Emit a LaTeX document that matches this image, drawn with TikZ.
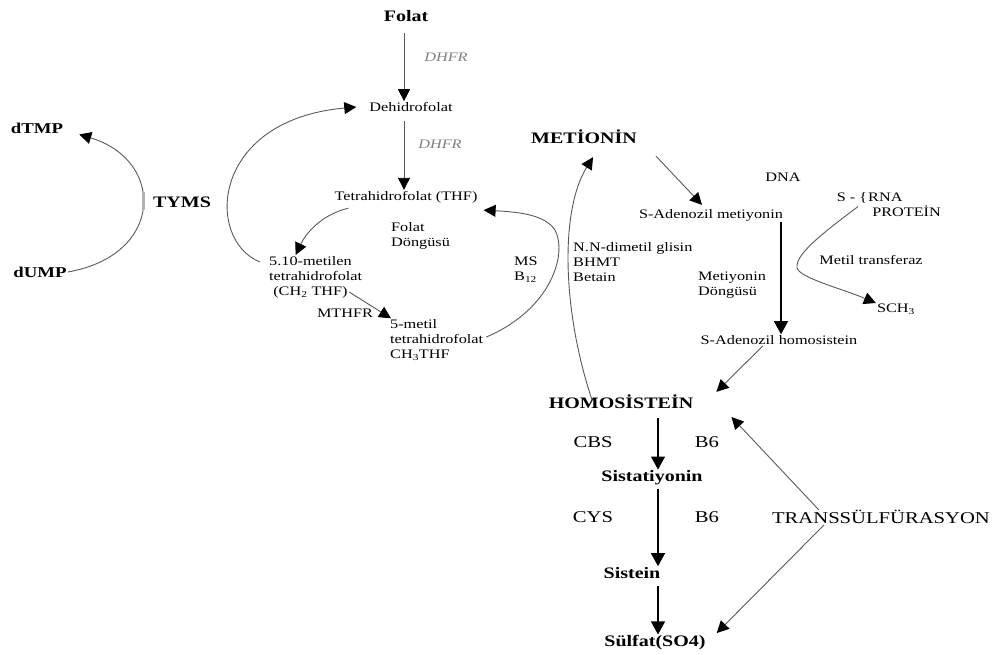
\documentclass[tikz,border=0pt]{standalone}
\usepackage{fontspec}
\setmainfont{Liberation Serif}[FakeStretch=1.25]
\usetikzlibrary{arrows.meta,positioning,calc}

\begin{document}
\begin{tikzpicture}[x=1pt,y=-1pt,
sm/.style={font=\fontsize{13}{15}\selectfont, inner sep=1pt},
big/.style={font=\fontsize{16}{18}\selectfont\bfseries, inner sep=1pt},
enz/.style={font=\fontsize{16.5}{18}\selectfont, inner sep=1pt},
dhfr/.style={font=\fontsize{13}{15}\selectfont\itshape, text=gray, inner sep=1pt},
arr/.style={-{Triangle[length=13pt,width=14pt]}, line width=1.1pt},
garr/.style={-{Triangle[length=12pt,width=12pt,color=black]}, gray!70!black, line width=0.9pt},
]
	\useasboundingbox (0,0) rectangle (992,654);
	\coordinate (faxis) at (404,0);
	\coordinate (samx) at (781,0);
	\coordinate (haxis) at (658,0);

	% folat cycle
	\node[big] (folat) at (406,16) {Folat};
	\node[sm] (dehidro) at (411,107) {Dehidrofolat};
	\node[sm] (thf) at (406,197) {Tetrahidrofolat (THF)};
	\node[dhfr] (dhfr1) at (446,57) {DHFR};
	\node[dhfr] (dhfr2) at (440,144) {DHFR};
	\node[big, font=\fontsize{15}{17}\selectfont\bfseries] (dtmp) at (37,128) {dTMP};
	\node[big, font=\fontsize{15}{17}\selectfont\bfseries] (dump) at (40,272) {dUMP};
	\node[big] (tyms) at (182,202) {TYMS};
	\node[sm, align=left, anchor=west] (metilen) at (268,277) {5.10-metilen\\tetrahidrofolat\\\ (CH\textsubscript{2} THF)};
	\node[sm, align=left, anchor=west] (fdongu) at (390,236) {Folat\\Döngüsü};
	\node[sm] (mthfr) at (345,313) {MTHFR};
	\node[sm, align=left, anchor=west] (metil) at (389,340) {5-metil\\tetrahidrofolat\\CH\textsubscript{3}THF};
	\node[sm, align=left, anchor=west] (ms) at (513,270) {MS\\B\textsubscript{12}};
	\node[sm, align=left, anchor=west] (bhmt) at (572,262) {N.N-dimetil glisin\\BHMT\\Betain};

	% methionine cycle
	\node[big] (met) at (584,137) {METİONİN};
	\node[sm] (sam) at (711,215) {S-Adenozil metiyonin};
	\node[sm] (dna) at (783,177) {DNA};
	\node[sm] (sbrace) at (852,198) {S - \{};
	\node[sm, align=left, anchor=west] (rna) at (867,205) {RNA\\\ PROTEİN};
	\node[sm] (mtrans) at (871,260) {Metil transferaz};
	\node[sm] (sch) at (896,309) {SCH\textsubscript{3}};
	\node[sm, align=left, anchor=west] (mdongu) at (697,285) {Metiyonin\\Döngüsü};
	\node[sm] (sah) at (779,340) {S-Adenozil homosistein};

	% transsulfuration
	\node[big] (hcy) at (621,402) {HOMOSİSTEİN};
	\node[enz] (cbs) at (593,442) {CBS};
	\node[enz] (b6a) at (707,442) {B6};
	\node[big] (sist) at (652,478) {Sistatiyonin};
	\node[enz] (cys) at (593,517) {CYS};
	\node[enz] (b6b) at (707,517) {B6};
	\node[big] (sistein) at (632,573) {Sistein};
	\node[big] (sulfat) at (655,643) {Sülfat(SO4)};
	\node[enz] (trans) at (881,517) {TRANSSÜLFÜRASYON};

	% connectors
	\draw[garr, shorten <=10pt] (folat.south -| faxis) -- (dehidro.north -| faxis);
	\draw[garr, shorten <=8pt] (dehidro.south -| faxis) -- (thf.north -| faxis);
	\draw[garr] (dump.east) .. controls (165,255) and (165,160) .. ([xshift=15pt]dtmp.south east);
	\draw[gray!60, line width=3pt] (143,192) -- (143,210); % TYMS mark
	\draw[garr] ([yshift=15pt,xshift=-8pt]metilen.west) .. controls (205,240) and (210,120) .. ([xshift=-12pt]dehidro.west);
	\draw[garr] ([xshift=15pt,yshift=-4pt]thf.south west) .. controls (320,215) and (305,235) .. ([xshift=-20pt]metilen.north);
	\draw[garr] ([xshift=-14pt,yshift=7pt]metilen.south east) -- ([xshift=2pt]metil.north west);
	\draw[garr] ([xshift=2pt,yshift=3pt]metil.east) .. controls (550,310) and (568,255) .. (555,230) .. controls (545,215) and (520,212) .. ([xshift=5pt,yshift=-6pt]thf.south east);
	\draw[garr] ([xshift=-29pt,yshift=-6pt]hcy.north) .. controls (562,310) and (560,210) .. ([xshift=9pt,yshift=-12pt]met.south);
	\draw[garr] ([xshift=18pt,yshift=-11pt]met.south east) -- ([xshift=-9pt,yshift=3pt]sam.north);
	\draw[arr, black] (sam.south -| samx) -- (sah.north -| samx);
	\draw[garr] ([xshift=6pt,yshift=-2pt]sbrace.south) .. controls (820,235) and (795,255) .. (797,268) .. controls (800,278) and (840,288) .. ([yshift=6pt]sch.west);
	\draw[garr] ([xshift=-16pt]sah.south) -- ([xshift=22pt,yshift=2pt]hcy.north east);
	\draw[arr, shorten <=8pt] (hcy.south -| haxis) -- (sist.north -| haxis);
	\draw[arr, shorten <=3pt] (sist.south -| haxis) -- (sistein.north -| haxis);
	\draw[arr, shorten <=6pt] (sistein.south -| haxis) -- (sulfat.north -| haxis);
	\draw[garr] ([xshift=48pt,yshift=7pt]trans.west) -- ([xshift=37pt,yshift=-15pt]hcy.east);
	\draw[garr] ([xshift=53pt,yshift=-8pt]trans.west) -- ([xshift=10pt,yshift=10pt]sulfat.east);
\end{tikzpicture}
\end{document}
